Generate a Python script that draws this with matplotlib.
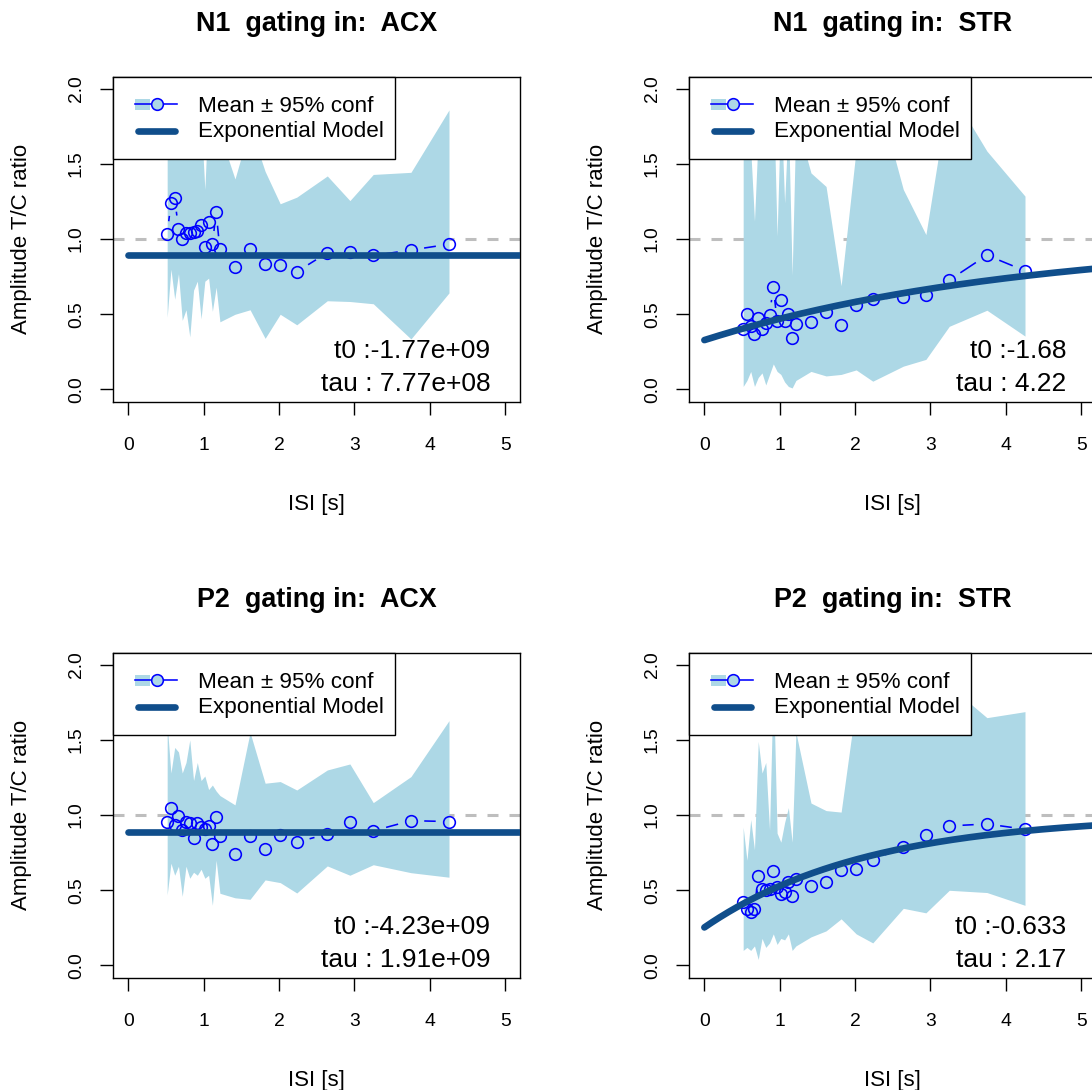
import numpy as np
import matplotlib
matplotlib.use("Agg")
import matplotlib.pyplot as plt
from matplotlib.collections import LineCollection
from matplotlib.patches import Rectangle
from matplotlib.lines import Line2D

plt.rcParams['font.family'] = ['Liberation Sans', 'DejaVu Sans']

# ---------------- data ----------------
isi = [0.515, 0.565, 0.615, 0.665, 0.715, 0.765, 0.815, 0.865, 0.915, 0.965,
       1.015, 1.065, 1.115, 1.165, 1.215, 1.415, 1.615, 1.815, 2.015, 2.235,
       2.64, 2.94, 3.25, 3.75, 4.255]

titles = ["N1  gating in:  ACX", "N1  gating in:  STR",
          "P2  gating in:  ACX", "P2  gating in:  STR"]

mean_n1_acx = [1.031, 1.242, 1.270, 1.069, 1.002, 1.042, 1.042, 1.046, 1.053, 1.091,
               0.949, 1.113, 0.966, 1.177, 0.931, 0.816, 0.936, 0.833, 0.831, 0.783,
               0.909, 0.913, 0.891, 0.927, 0.966]
lo_n1_acx = [0.48, 0.80, 0.60, 0.77, 0.46, 0.53, 0.35, 0.66, 0.72, 0.47,
             0.72, 0.74, 0.52, 0.68, 0.45, 0.50, 0.53, 0.34, 0.50, 0.43,
             0.59, 0.585, 0.57, 0.336, 0.642]
hi_n1_acx = [2.0, 2.3, 1.9, 2.2, 2.1, 1.8, 2.4, 1.9, 2.0, 1.8,
             1.33, 1.9, 2.1, 1.8, 1.7, 1.40, 1.75, 1.45, 1.235, 1.279,
             1.42, 1.256, 1.43, 1.444, 1.859]

mean_n1_str = [0.404, 0.505, 0.421, 0.372, 0.474, 0.404, 0.443, 0.492, 0.683, 0.454,
               0.597, 0.454, 0.505, 0.341, 0.434, 0.446, 0.514, 0.426, 0.561, 0.601,
               0.612, 0.627, 0.727, 0.893, 0.789]
lo_n1_str = [0.02, 0.06, 0.12, 0.02, 0.08, 0.11, 0.03, 0.10, 0.17, 0.12,
             0.10, 0.05, 0.02, 0.01, 0.06, 0.12, 0.09, 0.10, 0.13, 0.055,
             0.155, 0.20, 0.42, 0.527, 0.355]
hi_n1_str = [2.2, 1.9, 1.6, 1.12, 1.7, 2.0, 1.9, 2.1, 2.0, 1.02,
             1.9, 1.24, 1.8, 0.76, 1.8, 1.44, 1.35, 0.69, 1.6, 2.08,
             1.33, 1.03, 2.0, 1.585, 1.286]

mean_p2_acx = [0.957, 1.045, 0.934, 0.994, 0.901, 0.957, 0.946, 0.846, 0.950, 0.919,
               0.906, 0.930, 0.808, 0.990, 0.861, 0.740, 0.861, 0.773, 0.868, 0.819,
               0.875, 0.957, 0.895, 0.963, 0.957]
lo_p2_acx = [0.47, 0.68, 0.60, 0.66, 0.46, 0.66, 0.58, 0.62, 0.60, 0.64,
             0.58, 0.60, 0.40, 0.70, 0.48, 0.45, 0.44, 0.569, 0.551, 0.482,
             0.662, 0.60, 0.67, 0.617, 0.587]
hi_p2_acx = [1.60, 1.28, 1.45, 1.42, 1.28, 1.35, 1.50, 1.23, 1.35, 1.23,
             1.26, 1.17, 1.20, 1.16, 1.13, 1.068, 1.55, 1.212, 1.223, 1.167,
             1.30, 1.34, 1.083, 1.256, 1.628]

mean_p2_str = [0.422, 0.374, 0.358, 0.378, 0.595, 0.507, 0.502, 0.507, 0.629, 0.520,
               0.476, 0.491, 0.555, 0.462, 0.577, 0.529, 0.555, 0.635, 0.644, 0.702,
               0.786, 0.868, 0.928, 0.941, 0.906]
lo_p2_str = [0.10, 0.12, 0.10, 0.13, 0.04, 0.18, 0.12, 0.15, 0.21, 0.14,
             0.18, 0.17, 0.21, 0.10, 0.13, 0.19, 0.23, 0.31, 0.21, 0.15,
             0.38, 0.35, 0.50, 0.485, 0.40]
hi_p2_str = [0.92, 0.70, 0.97, 0.77, 1.49, 1.28, 1.35, 0.90, 1.90, 0.88,
             0.82, 0.95, 1.05, 0.82, 1.55, 1.08, 1.03, 1.02, 1.75, 2.2,
             2.0, 2.1, 1.86, 1.648, 1.688]

t0_values = [-1.77e9, -1.68, -4.23e9, -0.633]
tau_values = [7.77e8, 4.22, 1.91e9, 2.17]
t0_labels = ["t0 :-1.77e+09", "t0 :-1.68", "t0 :-4.23e+09", "t0 :-0.633"]
tau_labels = ["tau : 7.77e+08", "tau : 4.22", "tau : 1.91e+09", "tau : 2.17"]

x_ticks = [0, 1, 2, 3, 4, 5]
x_ticklabels = ["0", "1", "2", "3", "4", "5"]
y_ticks = [0.0, 0.5, 1.0, 1.5, 2.0]
y_ticklabels = ["0.0", "0.5", "1.0", "1.5", "2.0"]

means = [mean_n1_acx, mean_n1_str, mean_p2_acx, mean_p2_str]
lows = [lo_n1_acx, lo_n1_str, lo_p2_acx, lo_p2_str]
highs = [hi_n1_acx, hi_n1_str, hi_p2_acx, hi_p2_str]

# ---------------- styling ----------------
BAND = '#ADD8E6'
PTS = '#0000FF'
MODEL = '#104E8B'
GRAY = '#BEBEBE'
MS = 8.4
MEW = 1.15

W_FIG, H_FIG, DPI = 1092, 1090, 100
fig = plt.figure(figsize=(W_FIG / DPI, H_FIG / DPI), dpi=DPI)

AX_W, AX_H = 406.9, 324.8
origins = [(113.3, 76.7), (689.3, 76.7), (113.3, 652.7), (689.3, 652.7)]


def fr(dx, dy):
    """pixel offsets from the axes top-left corner -> axes fraction"""
    return dx / AX_W, 1 - dy / AX_H


GAP = 13.3  # px gap of R type="b"

for i, (L, T) in enumerate(origins):
    ax = fig.add_axes([L / W_FIG, 1 - (T + AX_H) / H_FIG, AX_W / W_FIG, AX_H / H_FIG])
    ax.set_xlim(-0.2, 5.2)
    ax.set_ylim(-0.08, 2.08)
    for s in ax.spines.values():
        s.set_linewidth(1.0)

    ax.axhline(1.0, color=GRAY, lw=2.2, ls=(0, (3.6, 3.6)), zorder=1)
    ax.fill_between(isi, lows[i], highs[i], color=BAND, lw=0, zorder=2)

    # points and gapped connecting segments (type = "b")
    ax.plot(isi, means[i], 'o', mfc='none', mec=PTS, ms=MS, mew=MEW, zorder=3)
    pix = ax.transData.transform(np.column_stack([isi, means[i]]))
    segs = []
    inv = ax.transData.inverted()
    for a, b in zip(pix[:-1], pix[1:]):
        d = b - a
        ln = np.hypot(*d)
        if ln > 2 * GAP:
            u = d / ln
            segs.append(inv.transform(np.vstack([a + u * GAP, b - u * GAP])))
    ax.add_collection(LineCollection(segs, colors=PTS, linewidths=MEW, zorder=3))

    # exponential model
    xs = np.linspace(0, 6, 300)
    ys = 1 - np.exp(-(xs - t0_values[i]) / tau_values[i])
    ax.plot(xs, ys, color=MODEL, lw=4.8, solid_capstyle='round', zorder=4)

    # ticks
    ax.set_xticks(x_ticks)
    ax.set_xticklabels(x_ticklabels)
    ax.set_yticks(y_ticks)
    ax.set_yticklabels(y_ticklabels)
    ax.tick_params(axis='both', direction='out', length=9.4, width=1.0,
                   labelsize=13.9, colors='black')
    ax.tick_params(axis='x', pad=16.5)
    ax.tick_params(axis='y', pad=11)
    for lbl in ax.get_yticklabels():
        lbl.set_rotation(90)
        lbl.set_va('center')

    # labels and title
    ax.text(0.5, fr(0, 433.3)[1], "ISI [s]", transform=ax.transAxes,
            ha='center', va='baseline', fontsize=16)
    ax.text(fr(-86.7, 0)[0], 0.5, "Amplitude T/C ratio", transform=ax.transAxes,
            ha='center', va='baseline', rotation=90, rotation_mode='anchor', fontsize=16)
    ax.text(0.5, fr(0, -45.3)[1], titles[i], transform=ax.transAxes,
            ha='center', va='baseline', fontsize=19.4, fontweight='bold')

    # fit parameters
    ax.text(fr(376.9, 0)[0], fr(0, 281.0)[1], t0_labels[i], transform=ax.transAxes,
            ha='right', va='baseline', fontsize=19, zorder=6)
    ax.text(fr(376.9, 0)[0], fr(0, 314.0)[1], tau_labels[i], transform=ax.transAxes,
            ha='right', va='baseline', fontsize=19, zorder=6)

    # legend (drawn by hand, R style)
    x0, y0 = fr(0, 82.3)
    x1, _ = fr(281.7, 0)
    ax.add_patch(Rectangle((x0, y0), x1 - x0, 1 - y0, transform=ax.transAxes,
                           facecolor='white', edgecolor='black', lw=1.0,
                           zorder=10, clip_on=False))
    rx0, ry1 = fr(21.7, 22.6)
    rx1, ry0 = fr(36.7, 33.3)
    ax.add_patch(Rectangle((rx0, ry0), rx1 - rx0, ry1 - ry0, transform=ax.transAxes,
                           facecolor=BAND, edgecolor='none', zorder=11, clip_on=False))
    lx0, ly = fr(21.7, 27.6)
    lx1, _ = fr(64.0, 0)
    ax.add_line(Line2D([lx0, lx1], [ly, ly], transform=ax.transAxes, color=PTS,
                       lw=MEW, zorder=12, clip_on=False))
    cx, _ = fr(43.4, 0)
    ax.add_line(Line2D([cx], [ly], transform=ax.transAxes, marker='o', mfc=BAND,
                       mec=PTS, ms=MS, mew=MEW, lw=0, zorder=13, clip_on=False))
    mx0, my = fr(24.7, 54.3)
    mx1, _ = fr(62.0, 0)
    ax.add_line(Line2D([mx0, mx1], [my, my], transform=ax.transAxes, color=MODEL,
                       lw=4.8, solid_capstyle='round', zorder=12, clip_on=False))
    tx, ty1 = fr(85.0, 35.0)
    _, ty2 = fr(0, 60.0)
    ax.text(tx, ty1, "Mean \u00b1 95% conf", transform=ax.transAxes, ha='left',
            va='baseline', fontsize=16.2, zorder=14)
    ax.text(tx, ty2, "Exponential Model", transform=ax.transAxes, ha='left',
            va='baseline', fontsize=16.2, zorder=14)

fig.savefig("out.png", dpi=DPI)
